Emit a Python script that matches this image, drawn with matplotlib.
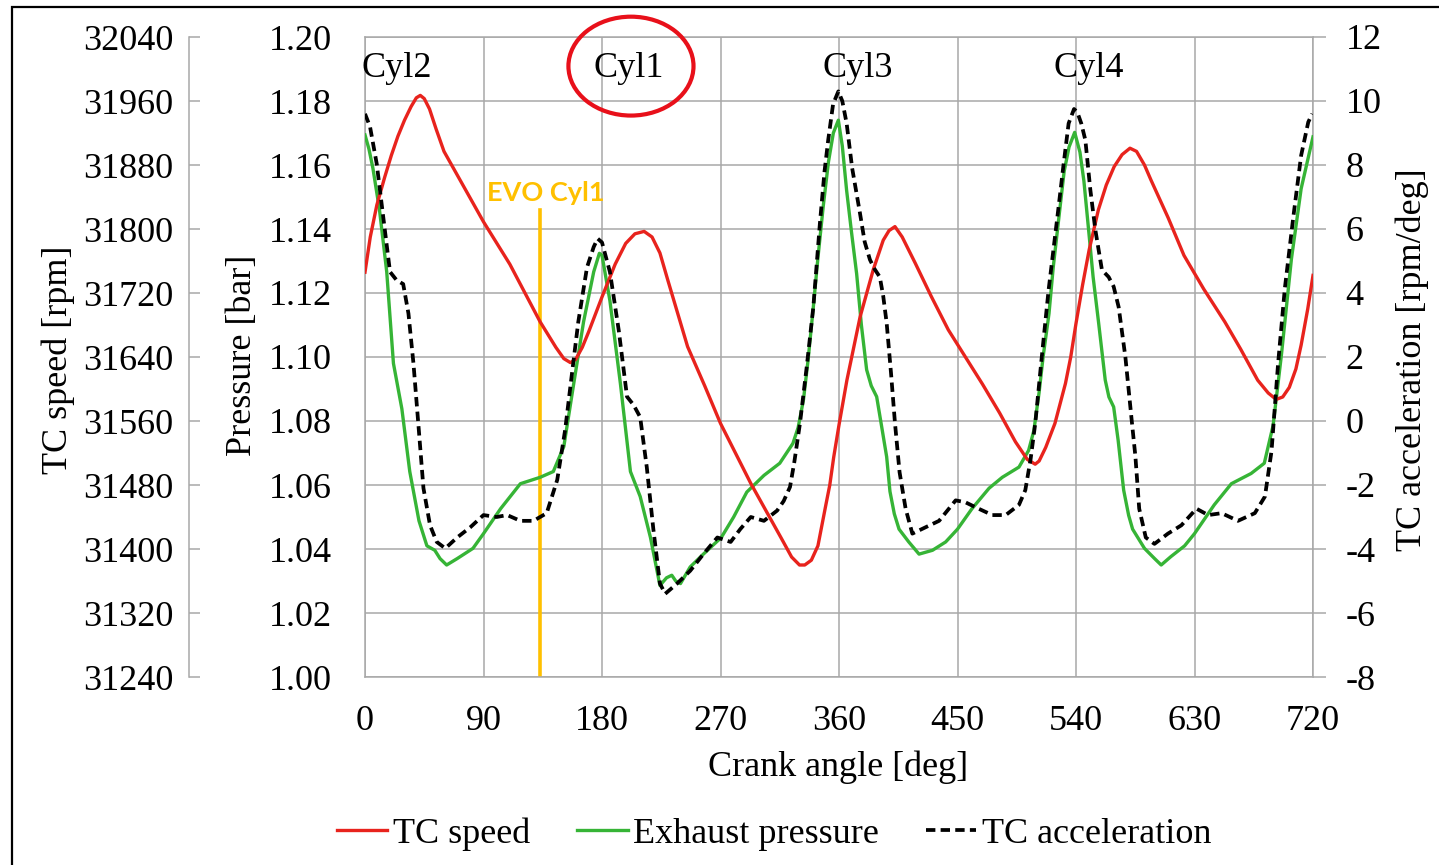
import numpy as np
import matplotlib
matplotlib.use("Agg")
import matplotlib.pyplot as plt
from matplotlib.patches import Ellipse, Rectangle
from matplotlib.ticker import FormatStrFormatter

plt.rcParams['font.family'] = ['Liberation Serif', 'DejaVu Serif']
plt.rcParams['axes.unicode_minus'] = False

# ---------------- data ----------------
speed_deg = [0, 4, 9, 15, 20, 25, 30, 35, 39, 42, 45, 49, 54, 60, 75, 90, 110, 133, 145, 151, 156,
             160, 165, 170, 180, 190, 198, 205, 212, 218, 224, 230, 245, 258, 270, 293, 316, 324,
             330, 334, 339, 344, 350, 353, 356, 360, 366, 376, 386, 393.6, 398, 402.5, 408, 418,
             430, 443, 456, 469, 482, 494, 503, 509, 512, 517, 524, 532, 536, 540, 545, 550, 557,
             563, 569, 575, 581, 586, 592, 597, 610, 622, 637, 653, 665, 678, 686, 692, 697, 702,
             707, 711, 716, 720]
speed_rpm = [31746, 31790, 31830, 31865, 31892, 31916, 31936, 31953, 31964, 31967, 31963, 31950,
             31925, 31897, 31853, 31809, 31756, 31684, 31652, 31638, 31633, 31637, 31652, 31672,
             31715, 31756, 31782, 31794, 31797, 31790, 31770, 31736, 31653, 31604, 31557, 31482,
             31414, 31390, 31380, 31380, 31386, 31404, 31455, 31480, 31515, 31555, 31611, 31690,
             31749, 31786, 31798, 31803, 31790, 31757, 31716, 31674, 31640, 31606, 31570, 31534,
             31512, 31506, 31510, 31527, 31557, 31607, 31640, 31682, 31730, 31774, 31824, 31855,
             31878, 31893, 31901, 31897, 31880, 31861, 31814, 31767, 31725, 31684, 31650, 31611,
             31595, 31587, 31590, 31602, 31625, 31655, 31700, 31742]

press_deg = [0, 3, 6, 11, 16.5, 21.6, 28, 34, 41, 47, 53, 57, 62, 70, 82, 90, 103, 118, 133, 143,
             151, 158.5, 166, 173.7, 178, 180, 186, 194, 201.6, 209, 216.8, 224, 229, 233, 236,
             239.6, 247, 257, 270.6, 280, 290, 303, 315, 325, 329, 333, 336.5, 340.5, 344, 348,
             352, 355.7, 359.5, 362.5, 365.8, 369.5, 373.4, 377, 381, 384.5, 388.6, 392.5, 396.2,
             398.7, 402, 405.6, 413, 420.8, 431, 441, 450, 461, 474, 484, 496.7, 504, 508, 512,
             515, 519.5, 522.7, 527, 531, 534.7, 539, 543, 546, 549.6, 553, 557.2, 562.2, 565,
             568.6, 572, 576.2, 580, 583, 592, 599.7, 604.7, 612, 622.5, 630, 645, 658, 673, 683,
             689.7, 696, 703.6, 711, 720]
press_bar = [1.1694, 1.165, 1.159, 1.146, 1.1266, 1.098, 1.0838, 1.0642, 1.0488, 1.041, 1.0396,
             1.037, 1.035, 1.037, 1.0402, 1.0448, 1.0526, 1.0604, 1.0624, 1.0642, 1.072, 1.0916,
             1.111, 1.1266, 1.1324, 1.1318, 1.1176, 1.0916, 1.0642, 1.0564, 1.0436, 1.0286, 1.031,
             1.0318, 1.030, 1.0292, 1.0344, 1.0384, 1.0436, 1.05, 1.0578, 1.063, 1.0668, 1.073,
             1.078, 1.0866, 1.099, 1.1156, 1.131, 1.147, 1.161, 1.170, 1.174, 1.166, 1.152, 1.139,
             1.126, 1.110, 1.096, 1.091, 1.0876, 1.078, 1.0688, 1.058, 1.051, 1.0462, 1.0422,
             1.0384, 1.0396, 1.0422, 1.0462, 1.0526, 1.059, 1.0624, 1.0656, 1.0708, 1.077, 1.089,
             1.100, 1.1136, 1.128, 1.1436, 1.158, 1.1656, 1.1702, 1.164, 1.155, 1.1396, 1.125,
             1.1106, 1.0928, 1.0875, 1.0844, 1.074, 1.0584, 1.0505, 1.0462, 1.0402, 1.037, 1.035,
             1.0376, 1.041, 1.0448, 1.0538, 1.0604, 1.0636, 1.0668, 1.0786, 1.1006, 1.1306,
             1.1526, 1.1688]

accel_deg = [0, 3.8, 8.9, 13.9, 19, 24, 29, 33, 36.8, 40.6, 44.4, 49.4, 54.5, 61, 70, 80, 90, 100,
             108, 118, 128, 138, 146, 152, 157, 162, 168.6, 173.7, 176.7, 180, 186, 192.7, 199,
             204, 209, 214, 219, 224, 228, 237, 247, 257, 267.6, 277.7, 285, 293, 303, 313, 318,
             322.8, 326, 330.4, 335.5, 340.5, 345.5, 349, 351.8, 355.5, 359.5, 362.5, 365.8, 370,
             375.9, 379.5, 383.5, 387, 391, 393.6, 396.2, 399.5, 402.5, 406, 410.6, 415.7, 425.8,
             436, 448.6, 456, 466, 476.5, 486.6, 496.7, 501.5, 505.5, 509.1, 514, 519.2, 523,
             526.8, 530.5, 534.4, 538.5, 541, 544, 547.1, 550.9, 554.7, 559.7, 564.8, 568.6,
             572.4, 577.5, 582.5, 585.1, 588, 593, 599.6, 609.8, 620, 631.5, 640.4, 650.6, 663,
             675.8, 683.5, 688.5, 693.5, 698.6, 705, 711, 716.4, 719.4]
accel_val = [9.6, 9.2, 8.04, 6.36, 4.66, 4.4, 4.28, 3.36, 1.8, -0.14, -2.1, -3.26, -3.78, -3.98,
             -3.64, -3.32, -2.94, -3.0, -2.94, -3.12, -3.12, -2.88, -1.84, -0.28, 1.42, 3.1, 4.8,
             5.44, 5.7, 5.58, 4.66, 2.84, 0.76, 0.5, 0.12, -1.44, -3.38, -5.08, -5.4, -5.08, -4.68,
             -4.16, -3.64, -3.78, -3.38, -3.0, -3.12, -2.8, -2.5, -2.06, -1.3, -0.06, 1.7, 3.56,
             6.18, 7.8, 8.78, 9.9, 10.3, 10.0, 9.3, 7.9, 6.5, 5.6, 5.04, 4.75, 4.5, 3.9, 3.06, 1.5,
             -0.06, -1.6, -2.74, -3.52, -3.32, -3.12, -2.48, -2.54, -2.74, -2.94, -2.94, -2.62,
             -2.16, -1.2, -0.06, 2.0, 4.1, 5.4, 6.7, 8.0, 9.3, 9.75, 9.65, 9.3, 8.78, 7.22, 5.97,
             4.72, 4.5, 4.2, 3.56, 2.0, -0.06, -1.1, -2.74, -3.64, -3.84, -3.52, -3.26, -2.74,
             -2.94, -2.88, -3.12, -2.88, -2.36, -0.94, 1.8, 4.14, 6.36, 8.3, 9.34, 9.6]

x_ticks = [0, 90, 180, 270, 360, 450, 540, 630, 720]
press_ticks = [1.00, 1.02, 1.04, 1.06, 1.08, 1.10, 1.12, 1.14, 1.16, 1.18, 1.20]
speed_ticks = [31240, 31320, 31400, 31480, 31560, 31640, 31720, 31800, 31880, 31960, 32040]
accel_ticks = [-8, -6, -4, -2, 0, 2, 4, 6, 8, 10, 12]

cyl_names = ['Cyl2', 'Cyl1', 'Cyl3', 'Cyl4']
cyl_deg = [24, 200, 374, 550]
evo_deg = 133
series_labels = ['TC speed', 'Exhaust pressure', 'TC acceleration']

# ---------------- styling ----------------
W_PX, H_PX = 1439, 865
RED = '#E8231D'
GREEN = '#36B436'
GRID = '#A8A8A8'
ORANGE = '#FFC000'
FS = 26

fig = plt.figure(figsize=(W_PX / 100, H_PX / 100), dpi=100)
ax = fig.add_axes([365 / W_PX, 1 - 677 / H_PX, 948 / W_PX, 640 / H_PX])

ax.set_xlim(0, 720)
ax.set_ylim(1.00, 1.20)
ax.set_xticks(x_ticks)
ax.set_yticks(press_ticks)
ax.yaxis.set_major_formatter(FormatStrFormatter('%.2f'))
ax.grid(True, color=GRID, lw=1.1)
ax.set_axisbelow(True)
for s in ax.spines.values():
    s.set_color(GRID)
    s.set_linewidth(1.1)
ax.tick_params(axis='both', length=0, labelsize=FS)
ax.tick_params(axis='y', pad=24)
ax.tick_params(axis='x', pad=20)

# speed axis (far left)
ax_s = ax.twinx()
ax_s.set_ylim(31240, 32040)
ax_s.set_yticks(speed_ticks)
ax_s.yaxis.set_ticks_position('left')
for k, s in ax_s.spines.items():
    s.set_visible(k == 'left')
ax_s.spines['left'].set_position(('outward', 176 * 0.72))
ax_s.spines['left'].set_color(GRID)
ax_s.spines['left'].set_linewidth(1.1)
ax_s.tick_params(axis='y', direction='in', length=8, width=1.1, color=GRID,
                 labelsize=FS, pad=11)

# acceleration axis (right)
ax_a = ax.twinx()
ax_a.set_ylim(-8, 12)
ax_a.set_yticks(accel_ticks)
for s in ax_a.spines.values():
    s.set_visible(False)
ax_a.tick_params(axis='y', direction='out', length=9.4, width=1.1, color=GRID,
                 labelsize=FS, pad=14)

# curves
l1, = ax_s.plot(speed_deg, speed_rpm, color=RED, lw=2.4, zorder=3, solid_joinstyle='round')
l2, = ax.plot(press_deg, press_bar, color=GREEN, lw=2.4, zorder=3, solid_joinstyle='round')
l3, = ax_a.plot(accel_deg, accel_val, color='black', lw=2.7, dashes=(2.5, 1.4), zorder=4)

# EVO marker
ax.plot([evo_deg, evo_deg], [1.00, 1.146], color=ORANGE, lw=2.6, zorder=2)
ax.text(evo_deg + 4.5, 1.1513, 'EVO Cyl1', color=ORANGE, fontsize=19.5, fontweight='bold',
        family=['Lato', 'DejaVu Sans'], ha='center', va='center')

# cylinder labels
for name, d in zip(cyl_names, cyl_deg):
    ax.text(d, 1.1903, name, ha='center', va='center', fontsize=FS)

# red ellipse around Cyl1
ax.add_patch(Ellipse((202, 1.1909), 95, 0.0309, fill=False, ec='#E8101A', lw=3, clip_on=False,
                     zorder=5))

# axis labels
fig.text(58 / W_PX, 1 - 360 / H_PX, 'TC speed [rpm]', rotation=90, ha='center', va='center',
         fontsize=FS)
fig.text(243 / W_PX, 1 - 355 / H_PX, 'Pressure [bar]', rotation=90, ha='center', va='center',
         fontsize=FS)
fig.text(1412 / W_PX, 1 - 360 / H_PX, 'TC acceleration [rpm/deg]', rotation=90, ha='center',
         va='center', fontsize=FS)
fig.text(838 / W_PX, 1 - 767 / H_PX, 'Crank angle [deg]', ha='center', va='center', fontsize=FS)

# legend
fig.legend([l1, l2, l3], series_labels, loc='center', bbox_to_anchor=(774 / W_PX, 1 - 834 / H_PX),
           ncol=3, frameon=False, fontsize=FS, handlelength=1.4, handletextpad=0.15,
           columnspacing=1.3)

# outer frame (top and left edges visible)
fig.add_artist(Rectangle((12 / W_PX, -0.1), 1.2, 1.1 - 7 / H_PX, transform=fig.transFigure,
                         fill=False, ec='black', lw=1.6))

fig.savefig('out.png', dpi=100)
